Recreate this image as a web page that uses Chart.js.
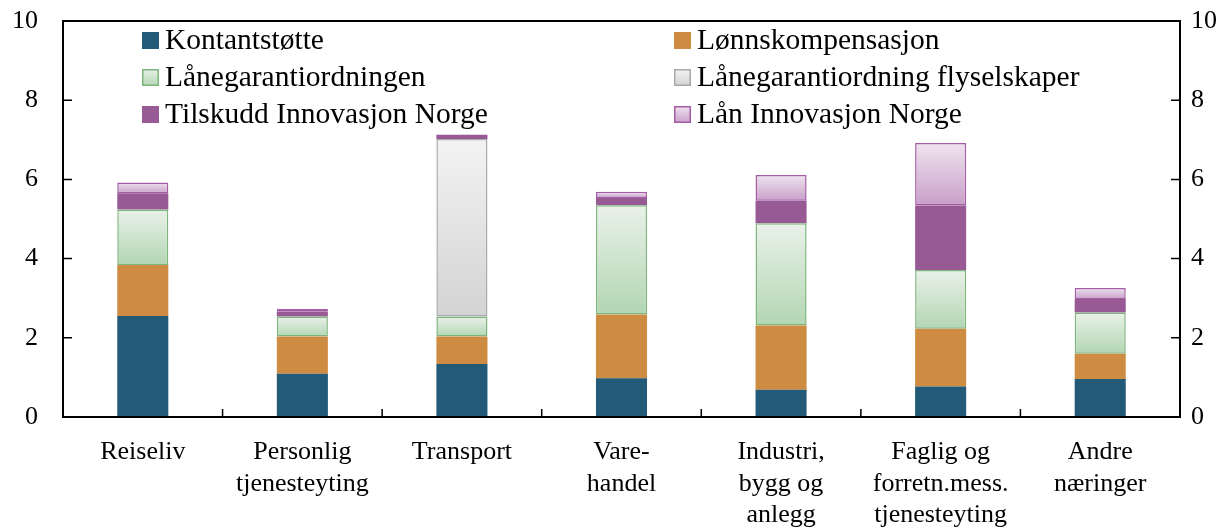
<!DOCTYPE html>
<html><head><meta charset="utf-8">
<script src="https://cdn.jsdelivr.net/npm/chart.js@4"></script>
<style>html,body{margin:0;padding:0;background:#fff}#wrap{width:1219px;height:527px}</style>
</head><body><div id="wrap"><canvas id="c" width="1219" height="527"></canvas></div>
<script>
const categories = ["Reiseliv", ["Personlig","tjenesteyting"], "Transport", ["Vare-","handel"], ["Industri,","bygg og","anlegg"], ["Faglig og","forretn.mess.","tjenesteyting"], ["Andre","næringer"]];
const seriesNames = ["Kontantstøtte","Lønnskompensasjon","Lånegarantiordningen","Lånegarantiordning flyselskaper","Tilskudd Innovasjon Norge","Lån Innovasjon Norge"];
const kontantstotte = [2.55, 1.09, 1.34, 0.98, 0.69, 0.77, 0.96];
const lonnskompensasjon = [1.29, 0.94, 0.69, 1.61, 1.62, 1.46, 0.64];
const lanegaranti = [1.40, 0.51, 0.51, 2.76, 2.58, 1.48, 1.04];
const lanegarantiFly = [0, 0, 4.48, 0, 0, 0, 0];
const tilskuddIN = [0.41, 0.12, 0.11, 0.18, 0.57, 1.63, 0.34];
const lanIN = [0.27, 0.07, 0, 0.16, 0.65, 1.58, 0.28];
const yTicks = [0, 2, 4, 6, 8, 10];

const allSeries = [kontantstotte, lonnskompensasjon, lanegaranti, lanegarantiFly, tilskuddIN, lanIN];
const styles = [
  {solid:'#235A78', border:'#235A78'},
  {solid:'#CE8B42', border:'#CE8B42'},
  {top:'#E9F1E9', bottom:'#B3D6B3', border:'#7DB57D'},
  {top:'#F3F3F3', bottom:'#D3D3D3', border:'#A9A9A9'},
  {solid:'#975A95', border:'#975A95'},
  {top:'#EFE3EF', bottom:'#C89FC8', border:'#A45DA4'}
];

function fillFor(di){
  const st = styles[di];
  if (st.solid) return st.solid;
  return function(ctx){
    const chart = ctx.chart;
    if (!chart.chartArea || ctx.type !== 'data') return st.bottom;
    const j = ctx.dataIndex;
    let start = 0;
    for (let k = 0; k < di; k++) start += allSeries[k][j];
    const end = start + allSeries[di][j];
    const y = chart.scales.y;
    const y0 = y.getPixelForValue(end), y1 = y.getPixelForValue(start);
    if (!(y1 > y0)) return st.bottom;
    const g = chart.ctx.createLinearGradient(0, y0, 0, y1);
    g.addColorStop(0, st.top); g.addColorStop(1, st.bottom);
    return g;
  };
}

const datasets = allSeries.map((d, i) => ({
  label: seriesNames[i],
  data: d,
  backgroundColor: fillFor(i),
  borderColor: styles[i].border,
  borderWidth: styles[i].solid ? 0 : 1.5,
  borderSkipped: false,
  yAxisID: 'y',
  barPercentage: 0.32,
  categoryPercentage: 1.0
}));

const FONT = 'Liberation Serif';

const framePlugin = {
  id: 'frame',
  afterDraw(chart){
    const {ctx, chartArea:a, scales} = chart;
    ctx.save();
    ctx.strokeStyle = '#000';
    ctx.lineWidth = 2;
    ctx.strokeRect(a.left, a.top, a.right - a.left, a.bottom - a.top);
    ctx.lineWidth = 1.5;
    ctx.beginPath();
    yTicks.forEach(v => {
      const yy = scales.y.getPixelForValue(v);
      ctx.moveTo(a.left, yy); ctx.lineTo(a.left + 9, yy);
      ctx.moveTo(a.right - 9, yy); ctx.lineTo(a.right, yy);
    });
    const n = chart.data.labels.length;
    for (let i = 1; i < n; i++) {
      const x = (scales.x.getPixelForValue(i - 1) + scales.x.getPixelForValue(i)) / 2;
      ctx.moveTo(x, a.bottom); ctx.lineTo(x, a.bottom - 8);
    }
    ctx.stroke();
    // legend: 2 columns x 3 rows
    const colX = [142, 674];
    const rowY = [40.5, 77.5, 114.5];
    const box = 17;
    ctx.font = '29.5px "' + FONT + '"';
    ctx.textBaseline = 'middle';
    ctx.textAlign = 'left';
    seriesNames.forEach((name, i) => {
      const x = colX[i % 2], yc = rowY[Math.floor(i / 2)];
      const st = styles[i];
      const y0 = yc - box / 2;
      if (st.solid) { ctx.fillStyle = st.solid; }
      else { const g = ctx.createLinearGradient(0, y0, 0, y0 + box); g.addColorStop(0, st.top); g.addColorStop(1, st.bottom); ctx.fillStyle = g; }
      ctx.fillRect(x, y0, box, box);
      if (!st.solid) { ctx.strokeStyle = st.border; ctx.lineWidth = 1.5; ctx.strokeRect(x + 0.75, y0 + 0.75, box - 1.5, box - 1.5); }
      ctx.fillStyle = '#000';
      ctx.fillText(name, x + box + 6, yc + 1);
    });
    ctx.restore();
  }
};

function fitY(w){
  return function(s){ s.width = w; s.paddingTop = 0; s.paddingBottom = 0; };
}

new Chart(document.getElementById('c'), {
  type: 'bar',
  data: { labels: categories, datasets },
  options: {
    responsive: false,
    animation: false,
    layout: { padding: { top: 21, left: 0, right: 0, bottom: 0 } },
    plugins: { legend: { display: false }, tooltip: { enabled: false } },
    scales: {
      x: {
        stacked: true,
        grid: { display: false, drawTicks: false },
        border: { display: false },
        ticks: { color: '#000', font: { family: FONT, size: 26, lineHeight: 1.2 }, padding: 20, maxRotation: 0, autoSkip: false },
        afterFit(s){ s.height = 110; s.paddingLeft = 0; s.paddingRight = 0; }
      },
      y: {
        stacked: true,
        position: 'left',
        min: 0, max: 10,
        afterBuildTicks(s){ s.ticks = yTicks.map(v => ({value: v})); },
        grid: { display: false, drawTicks: false },
        border: { display: false },
        ticks: { color: '#000', font: { family: FONT, size: 26 }, padding: 25 },
        afterFit: fitY(63)
      },
      y2: {
        position: 'right',
        min: 0, max: 10,
        afterBuildTicks(s){ s.ticks = yTicks.map(v => ({value: v})); },
        grid: { display: false, drawTicks: false },
        border: { display: false },
        ticks: { color: '#000', font: { family: FONT, size: 26 }, padding: 11 },
        afterFit: fitY(39)
      }
    }
  },
  plugins: [framePlugin]
});
</script>
</body></html>
